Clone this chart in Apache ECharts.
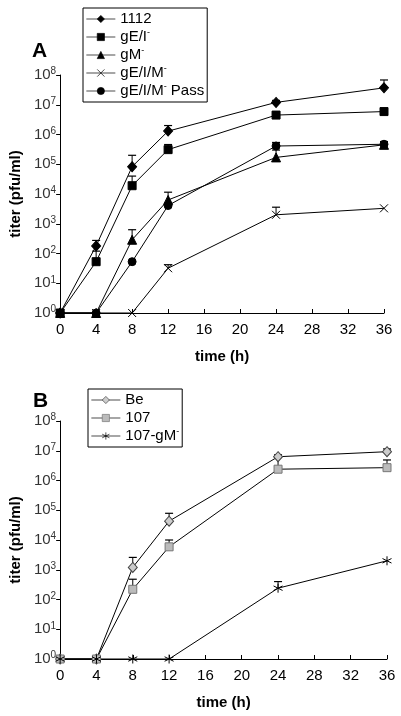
<!DOCTYPE html>
<html><head><meta charset="utf-8">
<script src="https://cdn.jsdelivr.net/npm/echarts@6/dist/echarts.min.js"></script>
<style>html,body{margin:0;padding:0;background:#fff}#c{width:401px;height:716px}</style>
</head><body><div id="c"></div>
<script>
var time = [0, 4, 8, 12, 24, 36];
var xTicks = [0, 4, 8, 12, 16, 20, 24, 28, 32, 36];
var yTickExp = [0, 1, 2, 3, 4, 5, 6, 7, 8];

// Panel A
var a1112 = [1, 180, 83000, 1300000, 12000000, 37000000];
var a1112Err = [null, 275, 200000, 2000000, 14000000, 68000000];
var aGEI = [1, 53, 19000, 310000, 4500000, 5900000];
var aGEIErr = [null, 120, 40000, 460000, 5800000, 7500000];
var aGM = [1, 1, 290, 6300, 170000, 450000];
var aGMErr = [null, null, 630, 11500, 300000, 550000];
var aGEIM = [1, 1, 1, 32, 2000, 3300];
var aGEIMErr = [null, null, null, 42, 3600, null];
var aPass = [1, 1, 53, 4100, 410000, 470000];
var aPassErr = [null, null, null, null, 540000, 580000];

// Panel B
var bBe = [1, 1, 1200, 43000, 6300000, 9300000];
var bBeErr = [null, null, 2600, 79000, 7300000, 11500000];
var b107 = [1, 1, 220, 5900, 2400000, 2700000];
var b107Err = [null, null, 480, 10000, 6000000, 4900000];
var b107gM = [1, 1, 1, 1, 240, 2000];
var b107gMErr = [null, null, null, null, 400, null];

var FONT = 'Arial, "Liberation Sans", sans-serif';
var chart = echarts.init(document.getElementById('c'), null, {renderer: 'canvas'});

function pts(vals) { return time.map(function (t, i) { return [t, vals[i]]; }); }
function errPts(vals, tops) {
  var out = [];
  time.forEach(function (t, i) { if (tops[i] != null) out.push([t, vals[i], tops[i]]); });
  return out;
}
function errSeries(idx, vals, tops) {
  return {
    type: 'custom', xAxisIndex: idx, yAxisIndex: idx, z: 1, silent: true,
    encode: {x: 0, y: [1, 2]},
    data: errPts(vals, tops),
    renderItem: function (params, api) {
      var p = api.coord([api.value(0), api.value(1)]);
      var t = api.coord([api.value(0), api.value(2)]);
      return {type: 'group', children: [
        {type: 'line', shape: {x1: p[0], y1: p[1], x2: t[0], y2: t[1]}, style: {stroke: '#000', lineWidth: 1}},
        {type: 'line', shape: {x1: t[0] - 4, y1: t[1], x2: t[0] + 4, y2: t[1]}, style: {stroke: '#000', lineWidth: 1.2}}
      ]};
    }
  };
}
function lineSeries(idx, name, vals, symbol, size, fill, border) {
  return {
    type: 'line', name: name, xAxisIndex: idx, yAxisIndex: idx, z: 3,
    data: pts(vals), symbol: symbol, symbolSize: size, showAllSymbol: true,
    lineStyle: {color: '#000', width: 1},
    itemStyle: {color: fill, borderColor: border, borderWidth: 1},
    animation: false
  };
}
var XPATH = 'path://M0,0L10,10M10,0L0,10';
var STAR = 'path://M5,0L5,10M0.7,2.5L9.3,7.5M0.7,7.5L9.3,2.5';

function xAxis(idx) {
  return {
    type: 'value', gridIndex: idx, min: 0, max: 36, interval: 4,
    name: 'time (h)', nameLocation: 'middle', nameGap: 36,
    nameTextStyle: {fontFamily: FONT, fontSize: 15, fontWeight: 'bold', color: '#000'},
    axisLine: {lineStyle: {color: '#000', width: 1}},
    axisTick: {inside: true, length: 4, lineStyle: {color: '#000'}},
    axisLabel: {fontFamily: FONT, fontSize: 15, color: '#000', margin: 9},
    splitLine: {show: false}
  };
}
function yAxis(idx) {
  return {
    type: 'log', logBase: 10, gridIndex: idx, min: 1, max: 100000000,
    name: 'titer (pfu/ml)', nameLocation: 'middle', nameGap: 34,
    nameTextStyle: {fontFamily: FONT, fontSize: 15, fontWeight: 'bold', color: '#000'},
    axisLine: {show: true, lineStyle: {color: '#000', width: 1}},
    axisTick: {show: true, inside: false, length: 4, lineStyle: {color: '#000'}},
    axisLabel: {
      margin: 4, color: '#000',
      formatter: function (v) { var e = Math.round(Math.log10(v)); return '{b|10}{s|' + e + '}'; },
      rich: {
        b: {fontFamily: FONT, fontSize: 15, color: '#333'},
        s: {fontFamily: FONT, fontSize: 10, color: '#333', verticalAlign: 'top', padding: [0, 0, 7, 0]}
      }
    },
    splitLine: {show: false}, minorTick: {show: false}
  };
}
function legendFmt(name) { return name.replace(/-( |$)/, '{s|-}$1'); }
function legend(names, left, top) {
  return {
    orient: 'vertical', left: left, top: top, data: names,
    borderColor: '#000', borderWidth: 1, borderRadius: 0,
    padding: [2, 3, 2, 3], itemGap: 0, itemWidth: 29, itemHeight: 9,
    formatter: legendFmt,
    lineStyle: {width: 0.7, color: '#000'},
    itemStyle: {borderWidth: 0.7},
    textStyle: {
      fontFamily: FONT, fontSize: 15, color: '#000', lineHeight: 18,
      rich: {s: {fontFamily: FONT, fontSize: 9, color: '#000', verticalAlign: 'top', lineHeight: 18, padding: [0, 0, 8, 0]}}
    },
    selectedMode: false
  };
}

var option = {
  animation: false,
  backgroundColor: '#fff',
  title: [
    {text: 'A', left: 27, top: 36, textStyle: {fontFamily: FONT, fontSize: 21, fontWeight: 'bold', color: '#000'}},
    {text: 'B', left: 28, top: 386, textStyle: {fontFamily: FONT, fontSize: 21, fontWeight: 'bold', color: '#000'}}
  ],
  grid: [
    {left: 54, right: 17, top: 75, height: 238},
    {left: 57, right: 14, top: 421, height: 238}
  ],
  xAxis: [xAxis(0), xAxis(1)],
  yAxis: [yAxis(0), yAxis(1)],
  legend: [
    legend(['1112', 'gE/I-', 'gM-', 'gE/I/M-', 'gE/I/M- Pass'], 83, 8),
    legend(['Be', '107', '107-gM-'], 88, 389)
  ],
  series: [
    errSeries(0, a1112, a1112Err), errSeries(0, aGEI, aGEIErr), errSeries(0, aGM, aGMErr),
    errSeries(0, aGEIM, aGEIMErr), errSeries(0, aPass, aPassErr),
    errSeries(1, bBe, bBeErr), errSeries(1, b107, b107Err), errSeries(1, b107gM, b107gMErr),
    lineSeries(0, '1112', a1112, 'diamond', [9, 10], '#000', '#000'),
    lineSeries(0, 'gE/I-', aGEI, 'rect', 8, '#000', '#000'),
    lineSeries(0, 'gM-', aGM, 'triangle', 9, '#000', '#000'),
    lineSeries(0, 'gE/I/M-', aGEIM, XPATH, 8, 'none', '#000'),
    lineSeries(0, 'gE/I/M- Pass', aPass, 'circle', 8, '#000', '#000'),
    lineSeries(1, 'Be', bBe, 'diamond', [9, 10], '#ccc', '#444'),
    lineSeries(1, '107', b107, 'rect', 8, '#bbb', '#777'),
    lineSeries(1, '107-gM-', b107gM, STAR, 9, 'none', '#000')
  ]
};
chart.setOption(option);
</script></body></html>
